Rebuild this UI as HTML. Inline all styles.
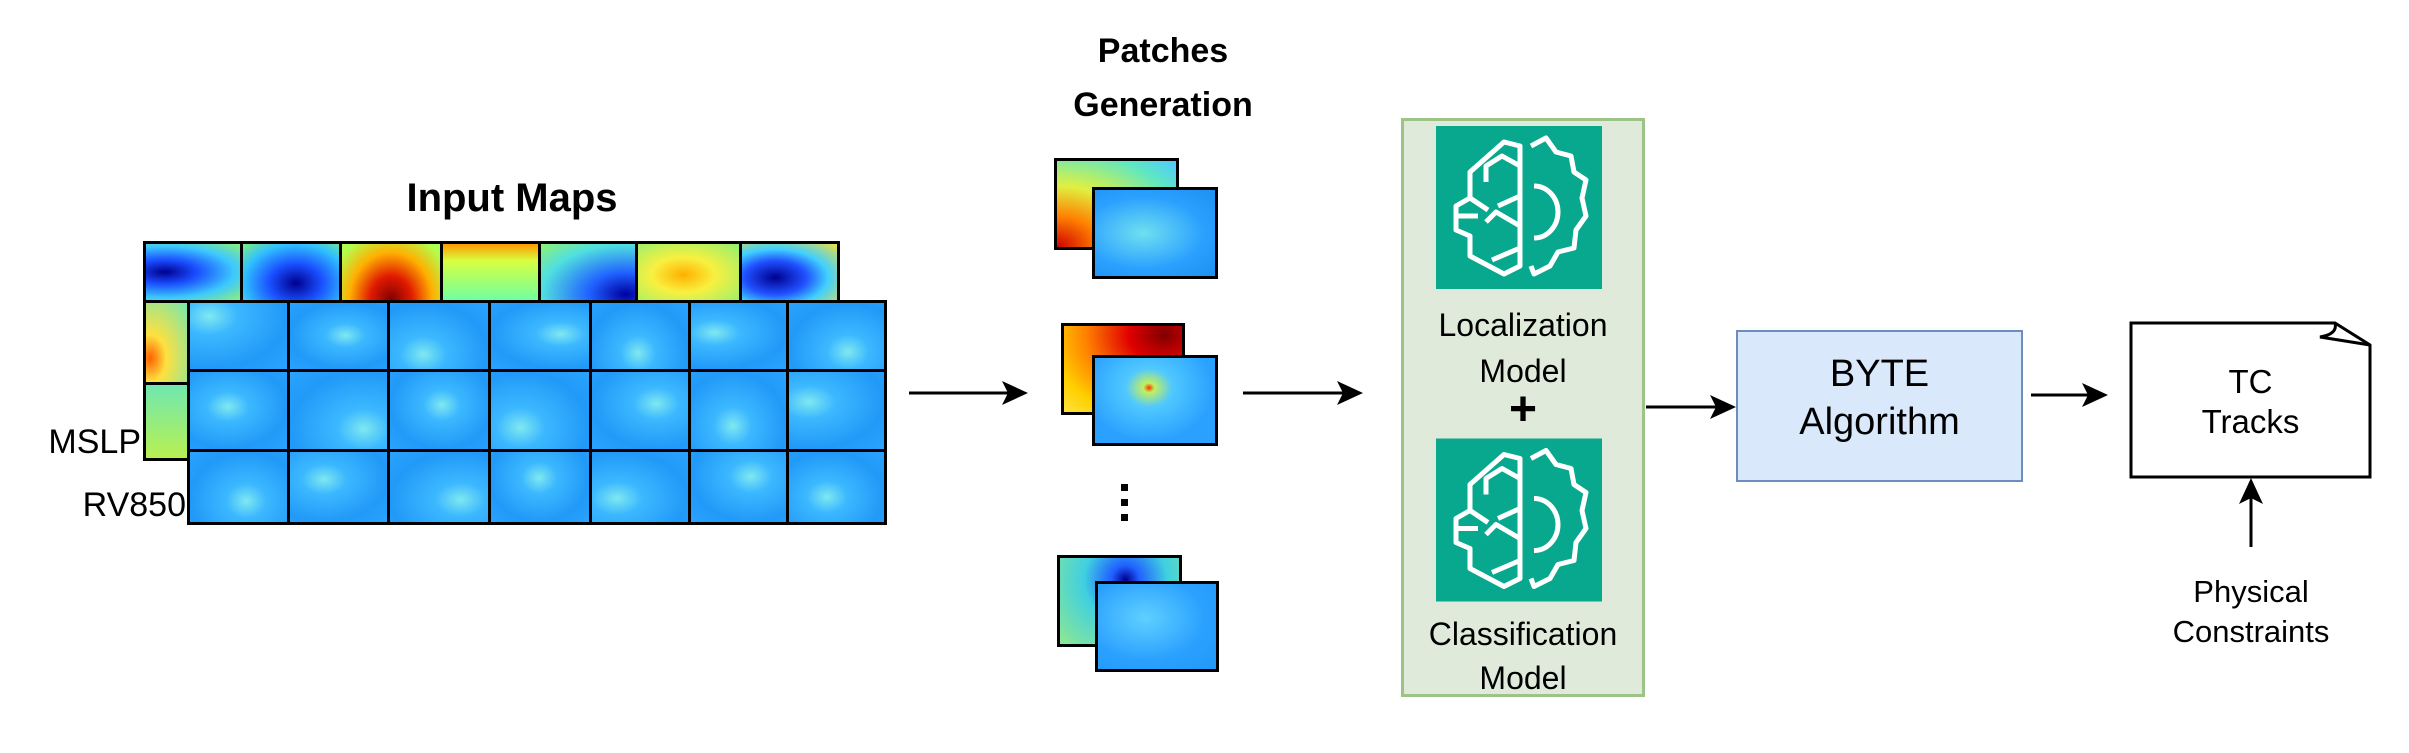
<!DOCTYPE html>
<html><head><meta charset="utf-8"><style>
body{margin:0;width:2409px;height:753px;background:#fff;position:relative;overflow:hidden;font-family:"Liberation Sans",Arial,sans-serif}
.a{position:absolute}
.t{position:absolute;text-align:center;white-space:nowrap;color:#000}
.cell{position:absolute;box-sizing:border-box;border:3px solid #000}
</style></head><body>

<div class="t" style="left:362px;top:176px;width:300px;font-size:40px;font-weight:bold">Input Maps</div>

<div class="a" style="left:143px;top:241px;width:697px;height:220px;border:4px solid #000;box-sizing:border-box;background:linear-gradient(90deg,#9be86a,#c8f04a)"></div>
<div class="cell" style="left:143px;top:241px;width:100px;height:62px;background:radial-gradient(ellipse at 20% 50%,#00008f 0%,#1a4dff 30%,#3cc8ff 65%,#8ef07a 100%)"></div>
<div class="cell" style="left:240px;top:241px;width:102px;height:62px;background:radial-gradient(ellipse at 55% 70%,#00008f 0%,#1a50ff 35%,#30c0ff 70%,#80f080 100%)"></div>
<div class="cell" style="left:339px;top:241px;width:104px;height:62px;background:radial-gradient(ellipse at 50% 100%,#800000 0%,#e01a00 30%,#ffb000 60%,#b0ff50 90%)"></div>
<div class="cell" style="left:440px;top:241px;width:101px;height:62px;background:linear-gradient(180deg,#ff9a00 0%,#d8ff40 30%,#70ffa0 100%)"></div>
<div class="cell" style="left:538px;top:241px;width:100px;height:62px;background:radial-gradient(ellipse at 90% 90%,#0000a0 0%,#2060ff 30%,#50e0e0 70%,#90f070 100%)"></div>
<div class="cell" style="left:635px;top:241px;width:107px;height:62px;background:radial-gradient(ellipse at 45% 55%,#ffb000 0%,#f8f040 40%,#90f070 100%)"></div>
<div class="cell" style="left:739px;top:241px;width:101px;height:62px;background:radial-gradient(ellipse at 35% 60%,#000090 0%,#2050ff 35%,#40d0ff 60%,#f0e040 100%)"></div>
<div class="cell" style="left:143px;top:300px;width:48px;height:85px;background:radial-gradient(ellipse at 10% 70%,#ff6000 0%,#ffe040 30%,#70e8b0 100%)"></div>
<div class="cell" style="left:143px;top:382px;width:48px;height:79px;background:linear-gradient(180deg,#70e8b0,#b8f050)"></div>

<div class="t" style="left:20px;top:423px;width:121px;text-align:right;font-size:34px">MSLP</div>
<div class="t" style="left:40px;top:486px;width:146px;text-align:right;font-size:34px">RV850</div>

<div class="a" style="left:187px;top:300px;width:697px;height:222px;box-sizing:border-box;border:4px solid #000;background:#2aa2ff"></div>
<div id="rvg"></div>
<script>
var xs=[187,287,387,488,589,688,786,884],ys=[300,369,449,522],h='';
for(var r=0;r<3;r++)for(var c=0;c<7;c++){var px=20+((r*7+c)*37)%60,py=20+((r*5+c)*29)%60;
h+='<div class="cell" style="left:'+xs[c]+'px;top:'+ys[r]+'px;width:'+(xs[c+1]-xs[c]+3)+'px;height:'+(ys[r+1]-ys[r]+3)+'px;background:radial-gradient(ellipse at '+px+'% '+py+'%,#7fe8f0 0%,#3cb8ff 25%,#2199f8 70%,#2aa4ff 100%)"></div>';}
document.getElementById('rvg').innerHTML=h;
</script>

<svg class="a" style="left:0;top:0" width="2409" height="753">
<g stroke="#000" stroke-width="3">
<line x1="909" y1="393" x2="1010" y2="393"/><path d="M1028,393 L1002,381 L1008,393 L1002,405z" fill="#000" stroke="none"/>
<line x1="1243" y1="393" x2="1345" y2="393"/><path d="M1363,393 L1337,381 L1343,393 L1337,405z" fill="#000" stroke="none"/>
<line x1="1646" y1="407" x2="1718" y2="407"/><path d="M1736,407 L1710,395 L1716,407 L1710,419z" fill="#000" stroke="none"/>
<line x1="2031" y1="395" x2="2090" y2="395"/><path d="M2108,395 L2082,383 L2088,395 L2082,407z" fill="#000" stroke="none"/>
<line x1="2251" y1="547" x2="2251" y2="495"/><path d="M2251,478 L2239,504 L2251,498 L2263,504z" fill="#000" stroke="none"/>
</g>
<path d="M2131,323 L2335,323 L2370,345 L2370,477 L2131,477z" fill="#fff" stroke="#000" stroke-width="3"/>
<path d="M2335,323 Q2338,334 2320,337 L2370,345" fill="none" stroke="#000" stroke-width="3"/>
</svg>

<div class="cell" style="left:1054px;top:158px;width:125px;height:92px;background:radial-gradient(ellipse at 0% 100%,#d00000 0%,#ff8000 25%,#e0f040 50%,#60e8c0 80%,#50c8ff 100%)"></div>
<div class="cell" style="left:1092px;top:187px;width:126px;height:92px;background:radial-gradient(ellipse at 40% 50%,#6fe0f0,#2aa0ff 60%,#1e90f0)"></div>
<div class="cell" style="left:1061px;top:323px;width:124px;height:92px;background:radial-gradient(ellipse at 85% 10%,#800000 0%,#e00000 25%,#ff8000 55%,#ffd000 80%,#ffe040 100%)"></div>
<div class="cell" style="left:1092px;top:355px;width:126px;height:91px;background:radial-gradient(ellipse at 45% 35%,#ff3000 0%,#c0f060 6%,#50c8ff 25%,#2aa0ff 70%)"></div>
<div class="cell" style="left:1057px;top:555px;width:125px;height:92px;background:radial-gradient(ellipse at 55% 25%,#000090 0%,#2060ff 15%,#40d0e0 45%,#90e890 100%)"></div>
<div class="cell" style="left:1095px;top:581px;width:124px;height:91px;background:radial-gradient(ellipse at 40% 40%,#5fd0ff,#2aa0ff 60%,#2299f8)"></div>
<div class="a" style="left:1121px;top:484px;width:7px;height:7px;background:#000"></div>
<div class="a" style="left:1121px;top:499px;width:7px;height:7px;background:#000"></div>
<div class="a" style="left:1121px;top:514px;width:7px;height:7px;background:#000"></div>
<div class="t" style="left:1013px;top:24px;width:300px;font-size:34px;font-weight:bold;line-height:54px">Patches<br>Generation</div>

<div class="a" style="left:1401px;top:118px;width:244px;height:579px;box-sizing:border-box;border:3px solid #9dc386;background:#dfeadb"></div>
<svg class="a" style="left:1436px;top:126px" width="166" height="163" viewBox="0 0 166 163">
<rect width="166" height="163" fill="#07a88e"/>
<g fill="none" stroke="#fff" stroke-width="5" stroke-linejoin="round">
<path d="M84,20 L84,140 L68,148 L34,130 L34,110 L20,104 L20,80 L34,72 L34,46 L68,16z"/>
<path d="M84,40 L66,30 L50,40 L50,56 M84,70 L62,80 M84,100 L60,86 L50,96 M34,72 L52,84 M84,122 L56,134 M20,90 L42,90"/>
<path d="M98,60 A24,26 0 0 1 98,112"/>
<path d="M95,20 L110,12 L120,26 L135,30 L138,46 L150,54 L146,72 L150,90 L140,104 L138,122 L122,126 L114,140 L98,148 L95,140"/>
</g></svg>
<svg class="a" style="left:1436px;top:438px" width="166" height="164" viewBox="0 0 166 163">
<rect width="166" height="163" fill="#07a88e"/>
<g fill="none" stroke="#fff" stroke-width="5" stroke-linejoin="round">
<path d="M84,20 L84,140 L68,148 L34,130 L34,110 L20,104 L20,80 L34,72 L34,46 L68,16z"/>
<path d="M84,40 L66,30 L50,40 L50,56 M84,70 L62,80 M84,100 L60,86 L50,96 M34,72 L52,84 M84,122 L56,134 M20,90 L42,90"/>
<path d="M98,60 A24,26 0 0 1 98,112"/>
<path d="M95,20 L110,12 L120,26 L135,30 L138,46 L150,54 L146,72 L150,90 L140,104 L138,122 L122,126 L114,140 L98,148 L95,140"/>
</g></svg>
<div class="t" style="left:1401px;top:302px;width:244px;font-size:32px;line-height:46px">Localization<br>Model</div>
<div class="t" style="left:1401px;top:382px;width:244px;font-size:48px;font-weight:bold;line-height:56px">+</div>
<div class="t" style="left:1401px;top:612px;width:244px;font-size:32px;line-height:44px">Classification<br>Model</div>

<div class="a" style="left:1736px;top:330px;width:287px;height:152px;box-sizing:border-box;border:2px solid #6c8ebf;background:#dae8fc"></div>
<div class="t" style="left:1736px;top:350px;width:287px;font-size:38px;line-height:48px">BYTE<br>Algorithm</div>

<div class="t" style="left:2131px;top:362px;width:239px;font-size:33px;line-height:40px">TC<br>Tracks</div>
<div class="t" style="left:2130px;top:572px;width:242px;font-size:31px;line-height:40px">Physical<br>Constraints</div>
</body></html>
